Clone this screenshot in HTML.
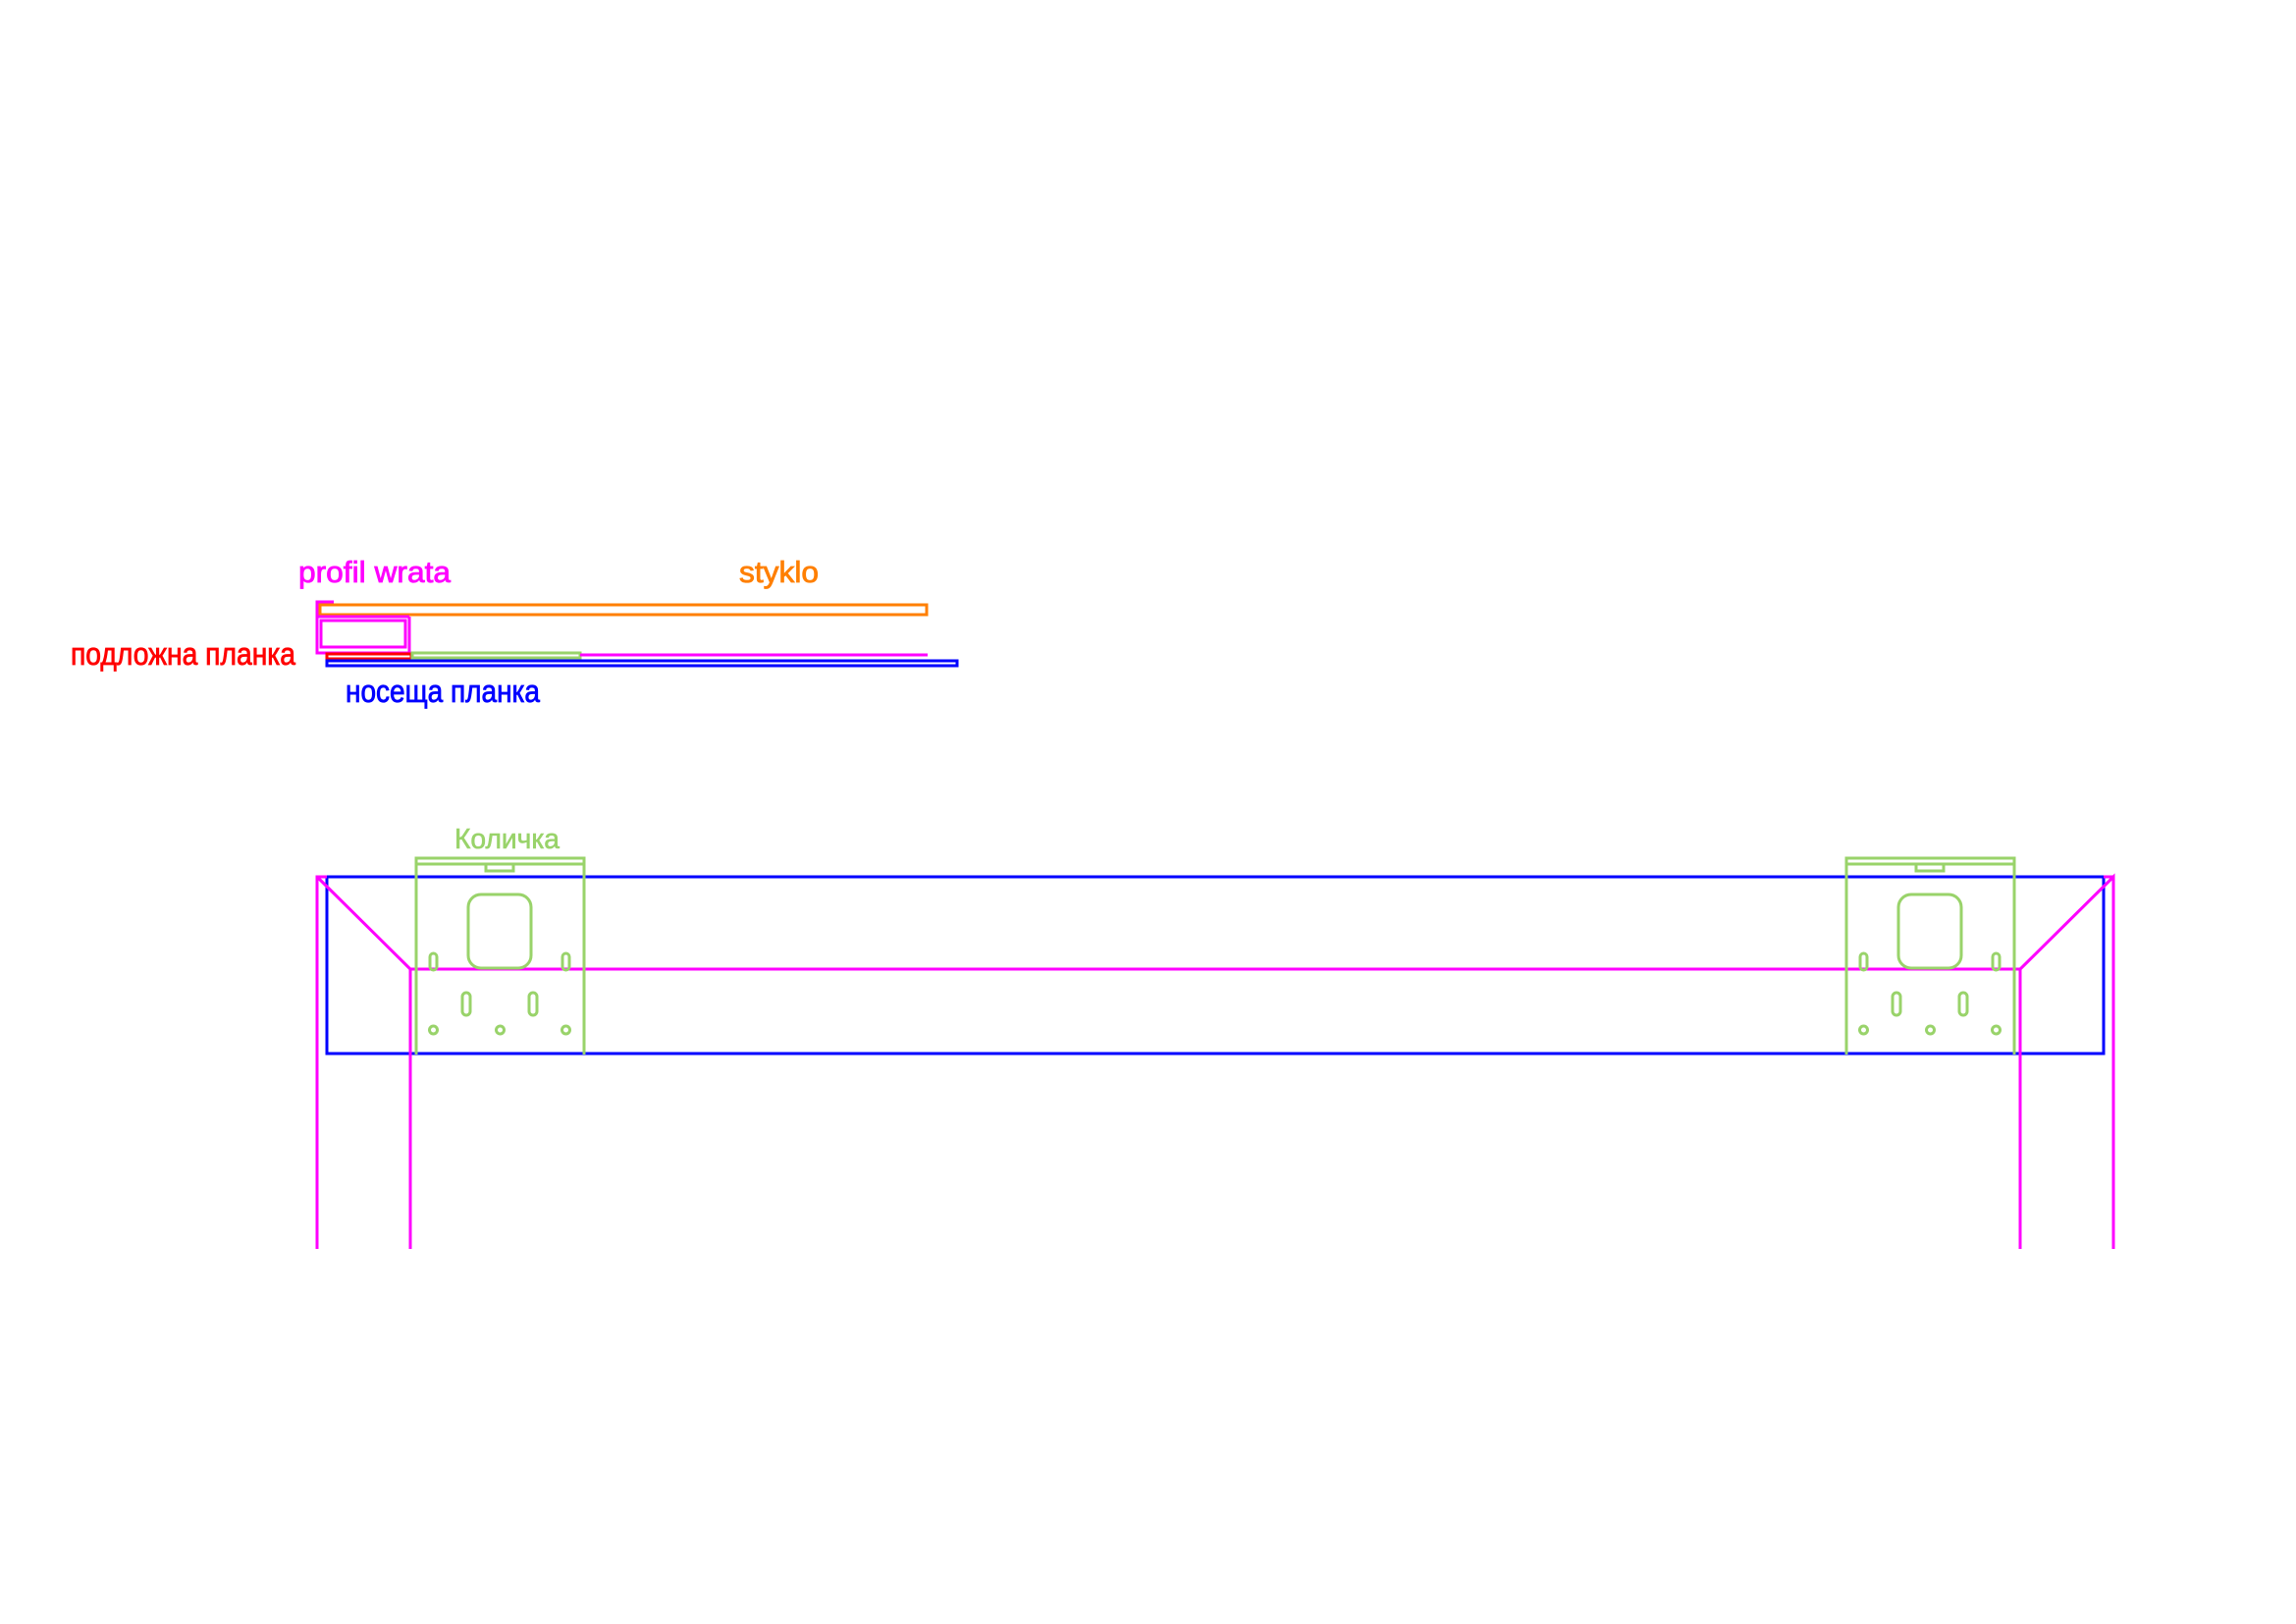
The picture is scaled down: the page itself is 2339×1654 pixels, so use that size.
<!DOCTYPE html>
<html><head><meta charset="utf-8"><style>html,body{margin:0;padding:0;background:#fff}svg{display:block}</style></head>
<body>
<svg width="2339" height="1654" viewBox="0 0 2339 1654" xmlns="http://www.w3.org/2000/svg" font-family="Liberation Sans, DejaVu Sans, sans-serif">
<rect width="2339" height="1654" fill="#fff"/>
<!-- labels -->
<text x="304" y="593" font-size="31" fill="#ff00ff" stroke="#ff00ff" stroke-width="0.8" textLength="155" lengthAdjust="spacingAndGlyphs">profil wrata</text>
<text x="753" y="593" font-size="31" fill="#ff7f00" stroke="#ff7f00" stroke-width="0.8" textLength="81" lengthAdjust="spacingAndGlyphs">styklo</text>
<text x="72" y="677" font-size="32" fill="#ff0000" stroke="#ff0000" stroke-width="0.8" textLength="229" lengthAdjust="spacingAndGlyphs">подложна планка</text>
<text x="352" y="715" font-size="32" fill="#0000ff" stroke="#0000ff" stroke-width="0.8" textLength="198" lengthAdjust="spacingAndGlyphs">носеща планка</text>
<text x="463" y="864" font-size="29" fill="#99d36a" stroke="#99d36a" stroke-width="0.6" textLength="107" lengthAdjust="spacingAndGlyphs">Количка</text>

<!-- top section -->
<g fill="none" stroke-width="3">
<rect x="326" y="616" width="618" height="10" stroke="#ff7f00"/>
<polyline points="340,613 323,613 323,665 417,665 417,628" stroke="#ff00ff"/>
<line x1="323" y1="628" x2="417" y2="628" stroke="#ff00ff"/>
<rect x="327" y="632" width="86" height="27" stroke="#ff00ff"/>
<rect x="333" y="666" width="86" height="5" stroke="#ff0000"/>
<rect x="420" y="665" width="171" height="5" stroke="#99d36a"/>
<line x1="591" y1="667" x2="945" y2="667" stroke="#ff00ff"/>
<rect x="333" y="673" width="642" height="5" stroke="#0000ff"/>
</g>

<!-- bottom frame -->
<g fill="none" stroke-width="3">
<rect x="333" y="893" width="1810" height="180" stroke="#0000ff"/>
<polyline points="323,1272 323,893 333,893" stroke="#ff00ff"/>
<polyline points="323,893 418,987 418,1272" stroke="#ff00ff"/>
<line x1="418" y1="987" x2="2058" y2="987" stroke="#ff00ff"/>
<polyline points="2058,1272 2058,987 2153,893 2153,1272" stroke="#ff00ff"/>
<line x1="2143" y1="893" x2="2153" y2="893" stroke="#ff00ff"/>
</g>

<!-- carts -->
<defs>
<g id="cart" fill="none" stroke="#99d36a" stroke-width="3">
<polyline points="0,1074 0,874 171,874 171,1074"/>
<line x1="0" y1="880" x2="171" y2="880"/>
<rect x="71" y="880" width="28" height="7"/>
<rect x="53" y="911" width="64" height="75" rx="13"/>
<rect x="14" y="971" width="7" height="17" rx="3.5"/>
<rect x="149" y="971" width="7" height="17" rx="3.5"/>
<rect x="47" y="1011" width="8" height="23" rx="4"/>
<rect x="115" y="1011" width="8" height="23" rx="4"/>
<circle cx="17.5" cy="1049" r="4"/>
<circle cx="85.5" cy="1049" r="4"/>
<circle cx="152.5" cy="1049" r="4"/>
</g>
</defs>
<use href="#cart" x="424"/>
<use href="#cart" x="1881"/>
</svg>
</body></html>
